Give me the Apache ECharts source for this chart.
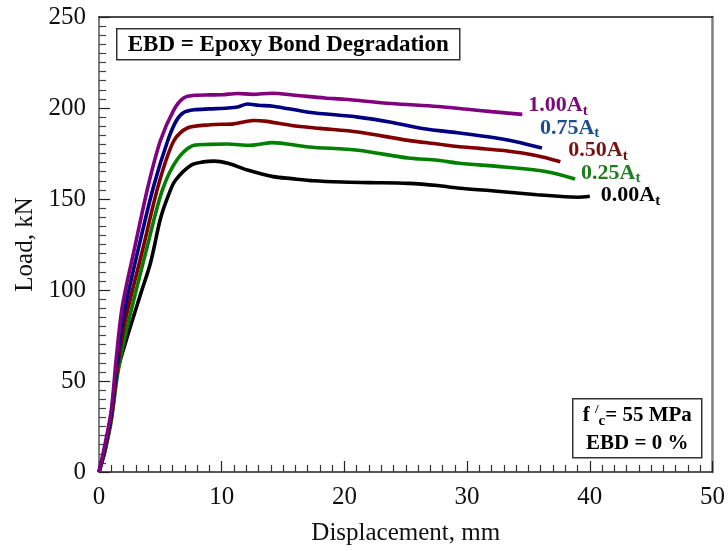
<!DOCTYPE html>
<html>
<head>
<meta charset="utf-8">
<script src="https://cdn.jsdelivr.net/npm/echarts@6/dist/echarts.min.js"></script>
<style>
html,body{margin:0;padding:0;background:#fff;}
#chart{width:728px;height:551px;}
</style>
</head>
<body>
<div id="chart"></div>
<script>
// ---- data (displacement mm, load kN) ----
const seriesNames = ['1.00A', '0.75A', '0.50A', '0.25A', '0.00A'];

const curve100 = [[0,0],[0.45,14],[1.0,34],[1.4,62],[1.9,91],[2.9,123],[4.0,157],[5.0,182],[6.1,199],[6.9,205.5],[7.8,207],[9,207.2],[10,207.3],[11.3,208],[12.5,207.5],[14.1,208.1],[16,207],[18.4,205.5],[20,204.8],[23.8,202.5],[27.6,200.8],[30,199.3],[32,198],[34.5,196.5]];
const curve075 = [[0,0],[0.5,14],[1.0,32],[1.5,62],[2.0,86],[3.15,121],[4.45,157],[5.6,182],[6.3,193],[6.9,197.5],[7.75,199],[9,199.5],[10.5,200],[11.3,200.6],[12.1,202.2],[13,201.5],[14.2,201],[17.1,197.7],[21.1,195],[23.8,192.2],[26.5,188.6],[29.2,186.4],[31.7,184.2],[34,181.5],[36.1,178]];
const curve050 = [[0,0],[0.5,13],[1.0,30],[1.5,57],[2.1,82],[3.55,122],[4.9,159],[6.1,182],[7.2,189],[9.1,190.8],[11,191.3],[12.6,193.1],[13.5,192.8],[15.7,190.4],[18,188.8],[21.1,186.8],[25.2,182.2],[27.6,180.2],[29.2,178.8],[31,177.8],[33,176.6],[35.5,174],[37.6,170.5]];
const curve025 = [[0,0],[0.5,12],[1.0,28],[1.5,53],[2.1,74],[3.9,123],[5.17,155],[6.4,172],[7.75,179.5],[9,180],[10.45,180.2],[12.3,179.5],[13.2,180.2],[14.1,181],[17.1,178.6],[21.1,176.8],[25.2,172.5],[27.6,171.3],[29.2,169.8],[33,167.6],[36.5,165],[38.8,161]];
const curve000 = [[0,0],[0.5,12],[1.0,30],[1.5,55],[2.2,72],[3.4,98],[4.2,115],[5.0,139],[5.6,151],[6.2,160],[7.5,168.6],[8.5,170.4],[9.4,170.8],[10.5,169.6],[12.1,165.9],[14.2,162.3],[15.7,161.2],[17.5,160],[19.8,159.3],[22,159],[25.2,158.6],[27.6,157.4],[29.2,156],[32,154.5],[35.7,152.3],[38,151.2],[39,151],[40,151.5]];

const xTicks = [0, 10, 20, 30, 40, 50];
const yTicks = [0, 50, 100, 150, 200, 250];

const lineColors = ['#800080', '#000080', '#800000', '#008000', '#000000'];
const labelColors = ['#7a0a7a', '#1f4e8c', '#7a1010', '#1e7b1e', '#000000'];
const labelOffsets = [[6,-9],[-2,-20],[8,-11],[6,-6],[11,-1]];
const curves = [curve100, curve075, curve050, curve025, curve000];

const FONT = 'Liberation Serif';

const chart = echarts.init(document.getElementById('chart'), null, {renderer: 'canvas'});

const series = curves.map((d, i) => ({
  name: seriesNames[i],
  type: 'line',
  xAxisIndex: 0,
  yAxisIndex: 0,
  data: d,
  smooth: 0.3,
  showSymbol: false,
  symbol: 'none',
  lineStyle: {color: lineColors[i], width: 3.6},
  itemStyle: {color: lineColors[i]},
  z: 10 - i,
  endLabel: {
    show: true,
    distance: 0,
    align: 'left',
    verticalAlign: 'middle',
    offset: labelOffsets[i],
    formatter: () => '{a|' + seriesNames[i] + '}{t|t}',
    rich: {
      a: {fontFamily: FONT, fontWeight: 'bold', fontSize: 22, lineHeight: 26, color: labelColors[i], verticalAlign: 'middle'},
      t: {fontFamily: FONT, fontWeight: 'bold', fontSize: 15, lineHeight: 10, color: labelColors[i], verticalAlign: 'bottom'}
    }
  }
}));

const option = {
  animation: false,
  backgroundColor: '#fff',
  grid: {left: 99, right: 12, top: 17, bottom: 74, containLabel: false},
  xAxis: [{
    type: 'value', min: xTicks[0], max: xTicks[xTicks.length-1], interval: 10,
    name: 'Displacement, mm', nameLocation: 'middle', nameGap: 49,
    nameTextStyle: {fontFamily: FONT, fontSize: 25, color: '#111'},
    axisLine: {show: true, onZero: false, lineStyle: {color: '#222', width: 1.5}},
    axisTick: {show: true, inside: true, length: 11, lineStyle: {color: '#222', width: 1.2}},
    minorTick: {show: true, splitNumber: 10, length: 7, lineStyle: {color: '#333', width: 1.2}},
    axisLabel: {margin: 13, fontFamily: FONT, fontSize: 25, color: '#111'},
    splitLine: {show: false}
  }, {
    type: 'value', position: 'top', min: 0, max: 50,
    axisLine: {show: true, onZero: false, lineStyle: {color: '#111', width: 1.5}},
    axisTick: {show: false}, axisLabel: {show: false}, splitLine: {show: false}
  }],
  yAxis: [{
    type: 'value', min: yTicks[0], max: yTicks[yTicks.length-1], interval: 50,
    name: 'Load, kN', nameLocation: 'middle', nameGap: 60,
    nameTextStyle: {fontFamily: FONT, fontSize: 25, color: '#111'},
    axisLine: {show: true, onZero: false, lineStyle: {color: '#808080', width: 2}},
    axisTick: {show: true, inside: true, length: 11, lineStyle: {color: '#222', width: 1.2}},
    minorTick: {show: true, splitNumber: 10, length: 7, lineStyle: {color: '#444', width: 1.2}},
    axisLabel: {margin: 13, fontFamily: FONT, fontSize: 25, color: '#111'},
    splitLine: {show: false}
  }, {
    type: 'value', position: 'right', min: 0, max: 250,
    axisLine: {show: true, onZero: false, lineStyle: {color: '#808080', width: 2.5}},
    axisTick: {show: false}, axisLabel: {show: false}, splitLine: {show: false}
  }],
  graphic: [
    {
      type: 'group', left: 116, top: 28,
      children: [
        {type: 'rect', shape: {x: 0, y: 0, width: 343, height: 31}, style: {fill: '#fff', stroke: '#333', lineWidth: 1.5}},
        {type: 'text', x: 171.5, y: 16, style: {text: 'EBD = Epoxy Bond Degradation', fontFamily: FONT, fontWeight: 'bold', fontSize: 23, fill: '#000', align: 'center', verticalAlign: 'middle'}}
      ]
    },
    {
      type: 'group', left: 572, top: 398,
      children: [
        {type: 'rect', shape: {x: 0, y: 0, width: 129, height: 59}, style: {fill: '#fff', stroke: '#333', lineWidth: 1.5}},
        {type: 'text', x: 64.5, y: 17, style: {
          text: '{m|f }{p|/}{c|c}{m|= 55 MPa}',
          align: 'center', verticalAlign: 'middle',
          rich: {
            m: {fontFamily: FONT, fontWeight: 'bold', fontSize: 21, lineHeight: 26, fill: '#000', verticalAlign: 'middle'},
            p: {fontFamily: FONT, fontWeight: 'bold', fontSize: 13, lineHeight: 10, fill: '#000', verticalAlign: 'top'},
            c: {fontFamily: FONT, fontWeight: 'bold', fontSize: 15, lineHeight: 10, fill: '#000', verticalAlign: 'bottom'}
          }
        }},
        {type: 'text', x: 64.5, y: 45, style: {text: 'EBD = 0 %', fontFamily: FONT, fontWeight: 'bold', fontSize: 21, fill: '#000', align: 'center', verticalAlign: 'middle'}}
      ]
    }
  ],
  series: series
};

chart.setOption(option);
</script>
</body>
</html>
